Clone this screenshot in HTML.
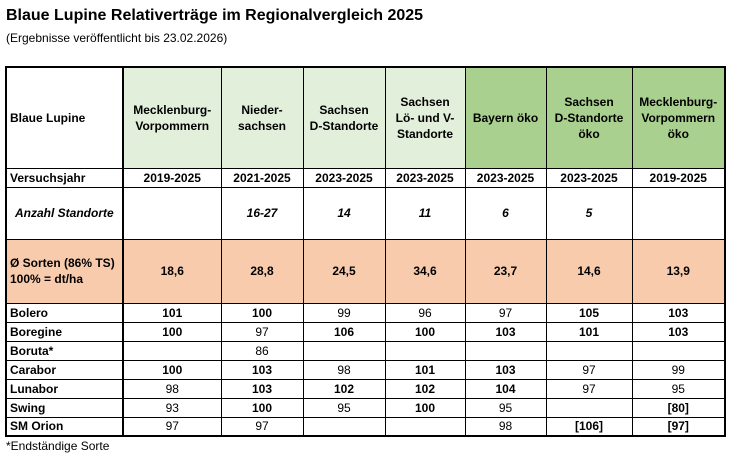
<!DOCTYPE html>
<html><head><meta charset="utf-8"><style>
body{margin:0;width:732px;height:457px;background:#fff;font-family:"Liberation Sans",Arial,sans-serif;position:relative;overflow:hidden}
.t1{position:absolute;left:6px;top:7px;font-size:16px;font-weight:bold}
.t2{position:absolute;left:6px;top:31px;font-size:12px}
.fn{position:absolute;left:6px;top:439px;font-size:12px}
table{position:absolute;left:5px;top:66px;border-collapse:collapse;font-size:12px;table-layout:fixed}
td{border:1px solid #000;text-align:center;padding:0;line-height:16px;font-weight:normal}
td.l{text-align:left;padding-left:3px;font-weight:bold}
.b{font-weight:bold}
.g1{background:#E2EFDA}.g2{background:#A9D08E}.o{background:#F8CBAD}
table{border:2px solid #000}
td.c1{border-right:2px solid #000}
</style></head><body>
<div class="t1">Blaue Lupine Relativerträge im Regionalvergleich 2025</div>
<div class="t2">(Ergebnisse veröffentlicht bis 23.02.2026)</div>
<table>
<colgroup><col style="width:117px"><col style="width:98px"><col style="width:82px"><col style="width:82px"><col style="width:80px"><col style="width:81px"><col style="width:86px"><col style="width:93px"></colgroup>
<tr style="height:101px"><td class="l c1">Blaue Lupine</td><td class="g1 b">Mecklenburg-<br>Vorpommern</td><td class="g1 b">Nieder-<br>sachsen</td><td class="g1 b">Sachsen<br>D-Standorte</td><td class="g1 b">Sachsen<br>Lö- und V-<br>Standorte</td><td class="g2 b">Bayern öko</td><td class="g2 b">Sachsen<br>D-Standorte<br>öko</td><td class="g2 b">Mecklenburg-<br>Vorpommern<br>öko</td></tr>
<tr style="height:19px"><td class="l c1">Versuchsjahr</td><td class="b">2019-2025</td><td class="b">2021-2025</td><td class="b">2023-2025</td><td class="b">2023-2025</td><td class="b">2023-2025</td><td class="b">2023-2025</td><td class="b">2019-2025</td></tr>
<tr style="height:52px;font-style:italic"><td class="l c1" style="padding-left:8px"><i>Anzahl Standorte</i></td><td></td><td class="b"><i>16-27</i></td><td class="b"><i>14</i></td><td class="b"><i>11</i></td><td class="b"><i>6</i></td><td class="b"><i>5</i></td><td></td></tr>
<tr style="height:64px" class="o"><td class="l c1">Ø Sorten (86% TS)<br>100% = dt/ha</td><td class="b">18,6</td><td class="b">28,8</td><td class="b">24,5</td><td class="b">34,6</td><td class="b">23,7</td><td class="b">14,6</td><td class="b">13,9</td></tr>
<tr style="height:19px"><td class="l c1">Bolero</td><td class="b">101</td><td class="b">100</td><td>99</td><td>96</td><td>97</td><td class="b">105</td><td class="b">103</td></tr>
<tr style="height:19px"><td class="l c1">Boregine</td><td class="b">100</td><td>97</td><td class="b">106</td><td class="b">100</td><td class="b">103</td><td class="b">101</td><td class="b">103</td></tr>
<tr style="height:19px"><td class="l c1">Boruta*</td><td></td><td>86</td><td></td><td></td><td></td><td></td><td></td></tr>
<tr style="height:19px"><td class="l c1">Carabor</td><td class="b">100</td><td class="b">103</td><td>98</td><td class="b">101</td><td class="b">103</td><td>97</td><td>99</td></tr>
<tr style="height:19px"><td class="l c1">Lunabor</td><td>98</td><td class="b">103</td><td class="b">102</td><td class="b">102</td><td class="b">104</td><td>97</td><td>95</td></tr>
<tr style="height:19px"><td class="l c1">Swing</td><td>93</td><td class="b">100</td><td>95</td><td class="b">100</td><td>95</td><td></td><td class="b">[80]</td></tr>
<tr style="height:19px"><td class="l c1">SM Orion</td><td>97</td><td>97</td><td></td><td></td><td>98</td><td class="b">[106]</td><td class="b">[97]</td></tr>
</table>
<div class="fn">*Endständige Sorte</div>
</body></html>
